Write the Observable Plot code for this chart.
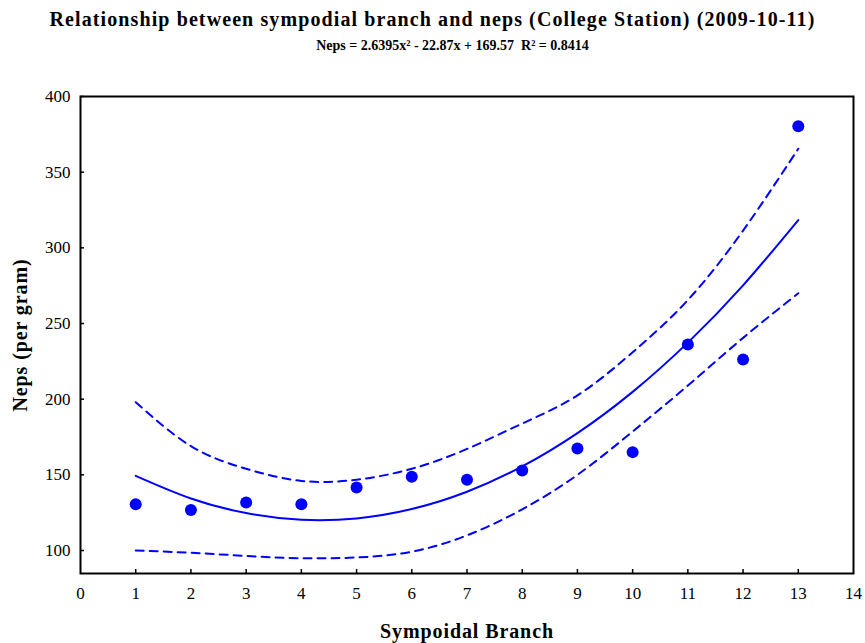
<!DOCTYPE html>
<html>
<head>
<meta charset="utf-8">
<script src="https://cdn.jsdelivr.net/npm/d3@7"></script>
<script src="https://cdn.jsdelivr.net/npm/@observablehq/plot@0.6"></script>
<style>
  html, body { margin: 0; padding: 0; background: #fff; }
  #chart { width: 865px; height: 643px; font-family: "Liberation Serif", "Times New Roman", serif; }
  .title { height: 36px; text-align: center; font-weight: bold; font-size: 20px; line-height: 20px; padding-top: 9px; box-sizing: border-box; letter-spacing: 1.1px; white-space: pre; }
  .subtitle { height: 34px; text-align: center; font-weight: bold; font-size: 14px; line-height: 14px; padding-top: 3px; padding-left: 40px; box-sizing: border-box; letter-spacing: 0px; white-space: pre; }
  svg { display: block; }
</style>
</head>
<body>
<div id="chart"></div>
<script>
// Sympodial branch positions and observed neps per gram
const branches = [1, 2, 3, 4, 5, 6, 7, 8, 9, 10, 11, 12, 13];
const neps = [130.5, 126.8, 131.7, 130.5, 141.6, 148.8, 146.8, 152.8, 167.4, 165.0, 236.1, 226.2, 380.4];

// Quadratic fit coefficients: Neps = a*x^2 + b*x + c
const fitCoef = [2.6395, -22.87, 169.57];

// 95% confidence band of the fit at each branch
const bandUpper = [198.0, 169.0, 154.0, 146.0, 146.8, 154.0, 167.1, 183.9, 202.5, 231.0, 265.5, 311.4, 365.5];
const bandLower = [100.0, 98.5, 96.4, 94.9, 95.4, 99.2, 110.0, 127.2, 150.0, 178.6, 209.0, 240.5, 270.0];

const xTicks = d3.range(0, 15);
const yTicks = [100, 150, 200, 250, 300, 350, 400];

const titleText = "Relationship between sympodial branch and neps (College Station) (2009-10-11)";
const subtitleText = "Neps = 2.6395x² - 22.87x + 169.57  R² = 0.8414";

const points = branches.map((x, i) => ({x, y: neps[i]}));
const fit = branches.map(x => ({x, y: fitCoef[0] * x * x + fitCoef[1] * x + fitCoef[2]}));
const upper = branches.map((x, i) => ({x, y: bandUpper[i]}));
const lower = branches.map((x, i) => ({x, y: bandLower[i]}));

const blue = "#0000ff";

const plot = Plot.plot({
  width: 865,
  height: 573,
  marginTop: 26,
  marginBottom: 70,
  marginLeft: 80,
  marginRight: 12,
  style: {fontFamily: "'Liberation Serif', 'Times New Roman', serif", fontSize: "17px", color: "black", background: "white"},
  x: {domain: [0, 14]},
  y: {domain: [84.8, 400]},
  marks: [
    Plot.axisX({ticks: xTicks, tickSize: 0, tickPadding: 13, tickFormat: d => String(d), fontSize: 17,
      label: "Sympoidal Branch", labelAnchor: "center", labelOffset: 64, labelArrow: "none"}),
    Plot.axisY({ticks: yTicks, tickSize: 0, tickPadding: 10, fontSize: 17,
      label: "Neps (per gram)", labelAnchor: "center", labelOffset: 68, labelArrow: "none"}),
    // inward tick marks
    Plot.tickX(xTicks.slice(1, -1), {x: d => d, insetTop: 473, stroke: "black", strokeWidth: 1.5}),
    Plot.tickY(yTicks, {y: d => d, insetRight: 769, stroke: "black", strokeWidth: 1.5}),
    Plot.line(upper, {x: "x", y: "y", curve: "natural", stroke: blue, strokeWidth: 2, strokeDasharray: "8,6"}),
    Plot.line(lower, {x: "x", y: "y", curve: "natural", stroke: blue, strokeWidth: 2, strokeDasharray: "8,6"}),
    Plot.line(fit, {x: "x", y: "y", curve: "natural", stroke: blue, strokeWidth: 2}),
    Plot.dot(points, {x: "x", y: "y", r: 6, fill: blue, stroke: "none"}),
    Plot.frame({stroke: "black", strokeWidth: 2})
  ]
});

// bold axis titles
d3.select(plot).selectAll("g[aria-label='x-axis label'] text, g[aria-label='y-axis label'] text")
  .attr("font-weight", "bold").attr("font-size", 20).attr("letter-spacing", "0.9px");

const chart = document.getElementById("chart");
const t = document.createElement("div");
t.className = "title";
t.textContent = titleText;
const s = document.createElement("div");
s.className = "subtitle";
s.textContent = subtitleText;
chart.append(t, s, plot);
</script>
</body>
</html>
